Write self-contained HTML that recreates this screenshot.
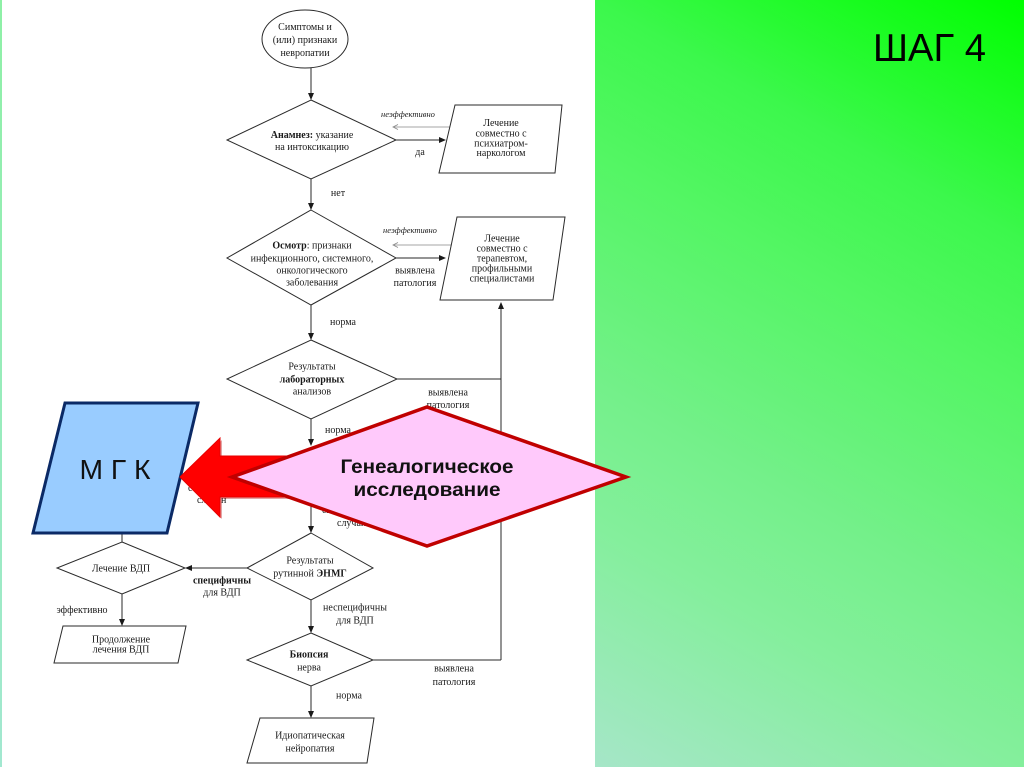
<!DOCTYPE html>
<html>
<head>
<meta charset="utf-8">
<style>
  html, body { margin:0; padding:0; background:#ffffff; }
  svg { display:block; }
  .t { font-family:"Liberation Serif", "DejaVu Serif", serif; font-size:10px; fill:#1a1a1a; }
  .b { font-weight:bold; }
  .i { font-style:italic; font-size:8.5px; }
  .ln { stroke:#2a2a2a; stroke-width:1; fill:none; }
  .sh { stroke:#2a2a2a; stroke-width:1; fill:#ffffff; }
</style>
</head>
<body>
<svg width="1024" height="767" viewBox="0 0 1024 767" xmlns="http://www.w3.org/2000/svg">
  <defs>
    <linearGradient id="gp" gradientUnits="userSpaceOnUse" x1="595" y1="767" x2="1024" y2="0">
      <stop offset="0" stop-color="#a6e6c8"/>
      <stop offset="0.24" stop-color="#84ef9c"/>
      <stop offset="0.38" stop-color="#74f08a"/>
      <stop offset="0.62" stop-color="#52f662"/>
      <stop offset="0.76" stop-color="#3cf84c"/>
      <stop offset="1" stop-color="#00ff00"/>
    </linearGradient>
    <linearGradient id="gl" x1="0" y1="0" x2="0" y2="1">
      <stop offset="0" stop-color="#8ef0a6"/>
      <stop offset="1" stop-color="#a2e8d0"/>
    </linearGradient>
  </defs>

  <!-- backgrounds -->
  <rect x="0" y="0" width="1024" height="767" fill="#ffffff"/>
  <rect x="0" y="0" width="2" height="767" fill="url(#gl)"/>
  <rect x="595" y="0" width="429" height="767" fill="url(#gp)"/>
  <text x="873" y="61" font-family="Liberation Sans, Arial, sans-serif" font-size="39" fill="#000" textLength="113" lengthAdjust="spacingAndGlyphs">ШАГ 4</text>

  <!-- ===== Flowchart ===== -->
  <!-- ellipse -->
  <ellipse cx="305" cy="39" rx="43" ry="29" class="sh"/>
  <text class="t" x="305" y="30" text-anchor="middle">Симптомы и</text>
  <text class="t" x="305" y="43" text-anchor="middle">(или) признаки</text>
  <text class="t" x="305" y="56" text-anchor="middle">невропатии</text>

  <!-- connectors (lines) -->
  <line class="ln" x1="311" y1="68" x2="311" y2="95"/>
  <line class="ln" x1="396" y1="140" x2="440" y2="140"/>
  <line class="ln" x1="311" y1="179" x2="311" y2="205"/>
  <line class="ln" x1="396" y1="258" x2="440" y2="258"/>
  <line class="ln" x1="311" y1="305" x2="311" y2="335"/>
  <line class="ln" x1="397" y1="379" x2="501" y2="379"/>
  <line class="ln" x1="501" y1="660" x2="501" y2="307"/>
  <line class="ln" x1="311" y1="419" x2="311" y2="441"/>
  <line class="ln" x1="311" y1="495" x2="311" y2="528"/>
  <line class="ln" x1="247" y1="568" x2="190" y2="568"/>
  <line class="ln" x1="122" y1="533" x2="122" y2="542"/>
  <line class="ln" x1="122" y1="594" x2="122" y2="620"/>
  <line class="ln" x1="311" y1="600" x2="311" y2="628"/>
  <line class="ln" x1="373" y1="660" x2="501" y2="660"/>
  <line class="ln" x1="311" y1="686" x2="311" y2="712"/>

  <!-- thin "неэффективно" arrows -->
  <line x1="452" y1="127" x2="394" y2="127" stroke="#888" stroke-width="0.8"/>
  <polyline points="398,124.5 393,127 398,129.5" fill="none" stroke="#888" stroke-width="0.8"/>
  <line x1="452" y1="245" x2="394" y2="245" stroke="#888" stroke-width="0.8"/>
  <polyline points="398,242.5 393,245 398,247.5" fill="none" stroke="#888" stroke-width="0.8"/>

  <!-- arrowheads -->
  <g fill="#1a1a1a">
    <polygon points="308,93 314,93 311,100"/>
    <polygon points="439,137 439,143 446,140"/>
    <polygon points="308,203 314,203 311,210"/>
    <polygon points="439,255 439,261 446,258"/>
    <polygon points="308,333 314,333 311,340"/>
    <polygon points="498,309 504,309 501,302"/>
    <polygon points="308,439 314,439 311,446"/>
    <polygon points="308,526 314,526 311,533"/>
    <polygon points="192,565 192,571 185,568"/>
    <polygon points="119,619 125,619 122,626"/>
    <polygon points="308,626 314,626 311,633"/>
    <polygon points="308,711 314,711 311,718"/>
  </g>

  <!-- diamond 1 -->
  <polygon class="sh" points="311,100 396,140 311,179 227,140"/>
  <text class="t" x="312" y="138" text-anchor="middle"><tspan class="b">Анамнез:</tspan> указание</text>
  <text class="t" x="312" y="150" text-anchor="middle">на интоксикацию</text>
  <text class="t i" x="408" y="117" text-anchor="middle">неэффективно</text>
  <text class="t" x="420" y="155" text-anchor="middle">да</text>
  <text class="t" x="338" y="196" text-anchor="middle">нет</text>

  <!-- parallelogram 1 -->
  <polygon class="sh" points="455,105 562,105 555,173 439,173"/>
  <text class="t" x="501" y="126" text-anchor="middle">Лечение</text>
  <text class="t" x="501" y="136.5" text-anchor="middle">совместно с</text>
  <text class="t" x="501" y="146.5" text-anchor="middle">психиатром-</text>
  <text class="t" x="501" y="156" text-anchor="middle">наркологом</text>

  <!-- diamond 2 -->
  <polygon class="sh" points="311,210 396,258 311,305 227,258"/>
  <text class="t" x="312" y="248.5" text-anchor="middle"><tspan class="b">Осмотр</tspan>: признаки</text>
  <text class="t" x="312" y="261.5" text-anchor="middle">инфекционного, системного,</text>
  <text class="t" x="312" y="273.5" text-anchor="middle">онкологического</text>
  <text class="t" x="312" y="285.5" text-anchor="middle">заболевания</text>
  <text class="t i" x="410" y="233" text-anchor="middle">неэффективно</text>
  <text class="t" x="415" y="273.5" text-anchor="middle">выявлена</text>
  <text class="t" x="415" y="286" text-anchor="middle">патология</text>
  <text class="t" x="343" y="325" text-anchor="middle">норма</text>

  <!-- parallelogram 2 -->
  <polygon class="sh" points="457,217 565,217 553,300 440,300"/>
  <text class="t" x="502" y="241.5" text-anchor="middle">Лечение</text>
  <text class="t" x="502" y="251.5" text-anchor="middle">совместно с</text>
  <text class="t" x="502" y="261.5" text-anchor="middle">терапевтом,</text>
  <text class="t" x="502" y="271.5" text-anchor="middle">профильными</text>
  <text class="t" x="502" y="281.5" text-anchor="middle">специалистами</text>

  <!-- diamond 3 -->
  <polygon class="sh" points="311,340 397,379 311,419 227,379"/>
  <text class="t" x="312" y="369.5" text-anchor="middle">Результаты</text>
  <text class="t b" x="312" y="382.5" text-anchor="middle">лабораторных</text>
  <text class="t" x="312" y="394.5" text-anchor="middle">анализов</text>
  <text class="t" x="448" y="395.5" text-anchor="middle">выявлена</text>
  <text class="t" x="448" y="408" text-anchor="middle">патология</text>
  <text class="t" x="338" y="433" text-anchor="middle">норма</text>

  <!-- partially hidden labels -->
  <text class="t" x="188" y="491">с</text>
  <text class="t" x="197" y="503">сл</text>
  <text class="t" x="221" y="503">н</text>
  <text class="t" x="322" y="513">спорадические</text>
  <text class="t" x="337" y="526">случаи</text>

  <!-- diamond 4 -->
  <polygon class="sh" points="311,533 373,568 311,600 247,568"/>
  <text class="t" x="310" y="563.5" text-anchor="middle">Результаты</text>
  <text class="t" x="310" y="576.5" text-anchor="middle">рутинной <tspan class="b">ЭНМГ</tspan></text>
  <text class="t b" x="222" y="583.5" text-anchor="middle">специфичны</text>
  <text class="t" x="222" y="595.5" text-anchor="middle">для ВДП</text>
  <text class="t" x="355" y="610.5" text-anchor="middle">неспецифичны</text>
  <text class="t" x="355" y="623.5" text-anchor="middle">для ВДП</text>

  <!-- Лечение ВДП diamond -->
  <polygon class="sh" points="122,542 185,568 122,594 57,568"/>
  <text class="t" x="121" y="571.5" text-anchor="middle">Лечение ВДП</text>
  <text class="t" x="82" y="613" text-anchor="middle">эффективно</text>

  <!-- parallelogram 3 -->
  <polygon class="sh" points="63,626 186,626 178,663 54,663"/>
  <text class="t" x="121" y="642.5" text-anchor="middle">Продолжение</text>
  <text class="t" x="121" y="652.5" text-anchor="middle">лечения ВДП</text>

  <!-- Биопсия diamond -->
  <polygon class="sh" points="311,633 373,660 311,686 247,660"/>
  <text class="t b" x="309" y="657.5" text-anchor="middle">Биопсия</text>
  <text class="t" x="309" y="670.5" text-anchor="middle">нерва</text>
  <text class="t" x="454" y="671.5" text-anchor="middle">выявлена</text>
  <text class="t" x="454" y="685" text-anchor="middle">патология</text>
  <text class="t" x="349" y="698.5" text-anchor="middle">норма</text>

  <!-- parallelogram 4 -->
  <polygon class="sh" points="260,718 374,718 367,763 247,763"/>
  <text class="t" x="310" y="738.5" text-anchor="middle">Идиопатическая</text>
  <text class="t" x="310" y="751.5" text-anchor="middle">нейропатия</text>

  <!-- ===== Overlays ===== -->
  <!-- MGK parallelogram -->
  <polygon points="65,403 198,403 167,533 33,533" fill="#99ccff" stroke="#0b2a66" stroke-width="3" stroke-linejoin="miter"/>
  <text x="115" y="479" text-anchor="middle" font-family="Liberation Sans, Arial, sans-serif" font-size="28" fill="#111" textLength="71" lengthAdjust="spacingAndGlyphs">М Г К</text>

  <!-- red arrow -->
  <polygon points="183,479 222,440 222,458 334,458 334,499 222,499 222,519" fill="#b00000" opacity="0.35"/>
  <polygon points="180,477 220,438 220,456 332,456 332,497 220,497 220,517" fill="#ff0000" stroke="#e60000" stroke-width="1"/>

  <!-- pink diamond -->
  <polygon points="232,477 427,407 626,477 427,546" fill="#ffc9fb" stroke="#c00000" stroke-width="3.5" stroke-linejoin="miter"/>
  <text x="427" y="473" text-anchor="middle" font-family="Liberation Sans, Arial, sans-serif" font-weight="bold" font-size="19" fill="#111" textLength="173" lengthAdjust="spacingAndGlyphs">Генеалогическое</text>
  <text x="427" y="496" text-anchor="middle" font-family="Liberation Sans, Arial, sans-serif" font-weight="bold" font-size="19" fill="#111" textLength="147" lengthAdjust="spacingAndGlyphs">исследование</text>
</svg>
</body>
</html>
